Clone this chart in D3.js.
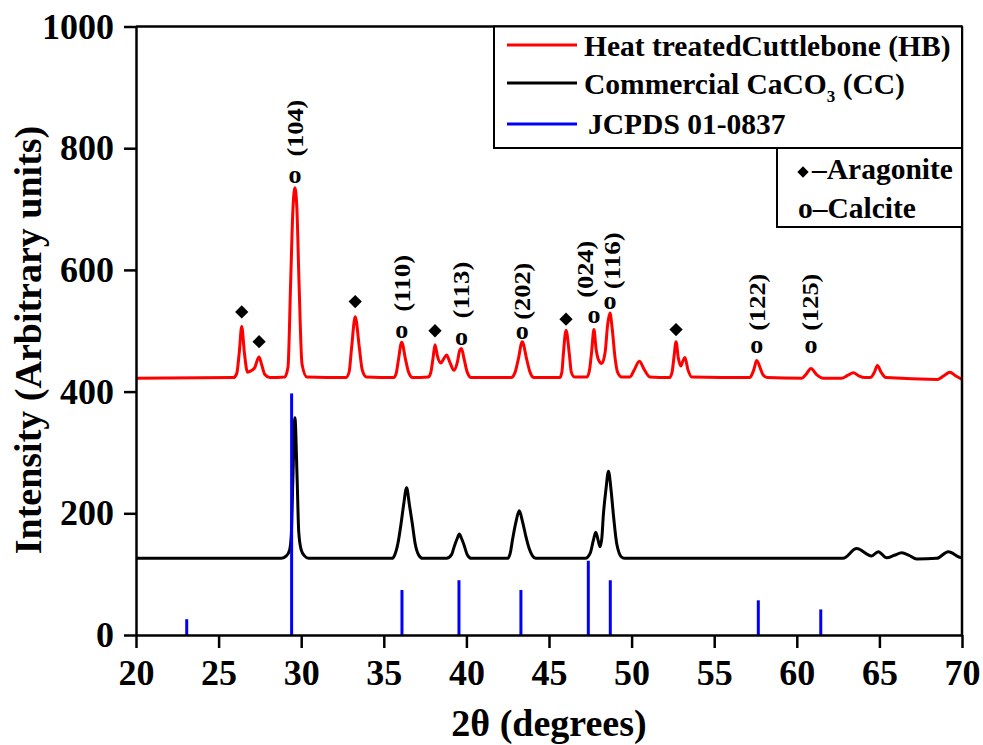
<!DOCTYPE html>
<html><head><meta charset="utf-8">
<script src="https://cdn.jsdelivr.net/npm/d3@7"></script>
<style>
html,body{margin:0;padding:0;background:#fff;}
text{font-family:"Liberation Serif","Times New Roman",Times,serif;font-weight:bold;}
</style>
</head><body>
<svg id="chart" width="983" height="745"></svg>
<script>
// ---------- DATA ----------
const seriesNames = ["Heat treatedCuttlebone (HB)", "Commercial CaCO", "JCPDS 01-0837"];
const xTicks = [20, 25, 30, 35, 40, 45, 50, 55, 60, 65, 70];
const yTicks = [0, 200, 400, 600, 800, 1000];

// Heat treated cuttlebone (HB)
const hbTheta = [20, 25.9, 26.1, 26.25, 26.4, 26.56, 26.75, 26.95, 27.2, 27.32, 27.45, 27.6, 27.8, 28.1,
  29.0, 29.2, 29.36, 29.5, 29.62, 29.74, 29.87, 30.05, 30.35,
  32.7, 32.9, 33.05, 33.27, 33.52, 33.7, 33.95,
  35.6, 35.75, 35.88, 36.08, 36.33, 36.5, 36.75,
  37.7, 37.85, 37.98, 38.1, 38.25, 38.45, 38.65, 38.8, 39.0, 39.25, 39.45, 39.6, 39.7, 39.85, 40.05, 40.3,
  42.7, 42.95, 43.14, 43.38, 43.65, 43.85, 44.1,
  45.65, 45.78, 45.87, 46.03, 46.23, 46.35, 46.55,
  47.3, 47.45, 47.58, 47.72, 47.85, 48.0, 48.19, 48.4, 48.55, 48.69, 48.82, 49.0, 49.15, 49.4,
  49.9, 50.15, 50.47, 50.75, 51.1,
  52.3, 52.45, 52.57, 52.69, 52.83, 52.98, 53.1, 53.23, 53.4, 53.65,
  57.15, 57.3, 57.41, 57.57, 57.81, 57.95, 58.2,
  60.3, 60.55, 60.86, 61.2, 61.6,
  62.7, 63.1, 63.42, 63.75, 64.1, 64.45, 64.7, 64.88, 65.1, 65.4,
  68.5, 68.9, 69.27, 69.6, 70];
const hbIntensity = [422, 423, 430, 464, 507, 464, 432, 434, 440, 450, 457, 445, 428, 423,
  424, 440, 578, 700, 735, 700, 578, 445, 424,
  423, 432, 472, 523, 472, 435, 424,
  423, 430, 451, 481, 451, 432, 423,
  424, 432, 455, 477, 458, 447, 455, 460, 448, 435, 448, 468, 471, 455, 432, 423,
  423, 432, 453, 482, 453, 432, 423,
  423, 432, 462, 501, 462, 432, 424,
  424, 435, 465, 502, 470, 452, 446, 465, 510, 529, 505, 455, 432, 424,
  424, 435, 450, 437, 424,
  423, 432, 458, 482, 455, 442, 450, 456, 437, 424,
  423, 429, 437, 451, 437, 428, 423,
  422, 428, 438, 428, 422,
  422, 427, 431, 426, 423, 423, 432, 443, 432, 423,
  420, 426, 432, 426, 420];

// Commercial CaCO3 (CC)
const ccTheta = [20, 28.8, 29.1, 29.3, 29.4, 29.5, 29.62, 29.75, 29.85, 30.0, 30.2, 30.45,
  35.5, 35.65, 35.85, 36.05, 36.2, 36.38, 36.55, 36.72, 36.9, 37.1, 37.35,
  38.8, 39.1, 39.27, 39.45, 39.57, 39.7, 39.88, 40.05, 40.3,
  42.5, 42.65, 42.8, 43.0, 43.2, 43.4, 43.6, 43.8, 44.0, 44.2,
  47.2, 47.5, 47.68, 47.83, 47.98, 48.09, 48.2, 48.29, 48.45, 48.6, 48.75, 48.9, 49.1, 49.4, 49.6,
  62.8, 63.62, 64.53, 64.93, 65.44, 65.9, 66.35, 66.8, 67.26, 68.47, 69.17, 69.98, 70];
const ccIntensity = [126, 126, 130, 140, 165, 260, 357, 260, 170, 140, 130, 126,
  126, 131, 150, 184, 214, 242, 214, 184, 150, 132, 126,
  126, 132, 146, 159, 166, 159, 146, 132, 126,
  126, 134, 158, 186, 204, 186, 162, 142, 130, 126,
  126, 135, 155, 169, 155, 145, 160, 197, 240, 269, 240, 197, 150, 128, 126,
  126, 142, 130, 137, 127, 131, 135, 131, 125, 126, 137, 127, 127];

// JCPDS 01-0837 reference lines
const jcpdsTheta = [23.07, 29.42, 36.1, 39.55, 43.3, 47.38, 48.71, 57.67, 61.45];
const jcpdsIntensity = [26, 397, 74, 90, 74, 122, 90, 57, 42];

// Phase markers (position of the marker glyph)
const aragoniteTheta = [26.4, 27.45, 33.27, 38.1, 46.03, 52.69];
const aragoniteIntensity = [531, 482, 548, 500, 519, 502];
const calciteTheta = [29.62, 36.08, 39.7, 43.38, 47.72, 48.69, 57.57, 60.86];
const calciteIntensity = [753, 498, 486, 497, 523, 545, 474, 474];

// hkl labels (centre of the rotated label)
const hklLabels = ["(104)", "(110)", "(113)", "(202)", "(024)", "(116)", "(122)", "(125)"];
const hklTheta = [29.62, 36.08, 39.7, 43.38, 47.18, 48.8, 57.57, 60.8];
const hklIntensity = [833, 578, 567, 565, 601, 615, 547, 547];

// ---------- CHART ----------
const svg = d3.select("#chart");
const x = d3.scaleLinear().domain([20, 70]).range([136, 962]);
const y = d3.scaleLinear().domain([0, 1000]).range([635, 26.5]);

const hb = hbTheta.map((t, i) => [t, hbIntensity[i]]);
const cc = ccTheta.map((t, i) => [t, ccIntensity[i]]);
const line = d3.line().x(d => x(d[0])).y(d => y(d[1])).curve(d3.curveMonotoneX);

// black CC curve
svg.append("path").attr("d", line(cc)).attr("fill", "none")
  .attr("stroke", "#000").attr("stroke-width", 3).attr("stroke-linejoin", "round");

// JCPDS sticks
svg.append("g").selectAll("line").data(jcpdsTheta).join("line")
  .attr("x1", d => x(d)).attr("x2", d => x(d))
  .attr("y1", y(0)).attr("y2", (d, i) => y(jcpdsIntensity[i]))
  .attr("stroke", "#0000ff").attr("stroke-width", 3);

// red HB curve
svg.append("path").attr("d", line(hb)).attr("fill", "none")
  .attr("stroke", "#ff0000").attr("stroke-width", 3).attr("stroke-linejoin", "round");

// frame: top and right
svg.append("line").attr("x1", x(20)).attr("x2", x(70)).attr("y1", y(1000)).attr("y2", y(1000))
  .attr("stroke", "#000").attr("stroke-width", 2.5);
svg.append("line").attr("x1", x(70)).attr("x2", x(70)).attr("y1", y(0)).attr("y2", y(1000))
  .attr("stroke", "#000").attr("stroke-width", 2.5);

// axes
const gx = svg.append("g").attr("transform", `translate(0,${y(0)})`)
  .call(d3.axisBottom(x).tickValues(xTicks).tickFormat(d3.format("d")).tickSize(13).tickPadding(11).tickSizeOuter(0));
const gy = svg.append("g").attr("transform", `translate(${x(20)},0)`)
  .call(d3.axisLeft(y).tickValues(yTicks).tickFormat(d3.format("d")).tickSize(12).tickPadding(10).tickSizeOuter(0));
[gx, gy].forEach(g => {
  g.attr("font-family", null);
  g.select(".domain").attr("stroke-width", 2.5);
  g.selectAll(".tick line").attr("stroke-width", 2.5);
  g.selectAll(".tick text").attr("font-size", 36).attr("fill", "#000");
});

// axis titles
svg.append("text").attr("x", 549).attr("y", 736).attr("text-anchor", "middle")
  .attr("font-size", 38).text("2θ (degrees)");
svg.append("text").attr("transform", "translate(41,340) rotate(-90)").attr("text-anchor", "middle")
  .attr("font-size", 38).text("Intensity (Arbitrary units)");

// markers
const diamond = d3.symbol().type(d3.symbolSquare).size(88);
svg.append("g").selectAll("path").data(aragoniteTheta).join("path")
  .attr("d", diamond)
  .attr("transform", (d, i) => `translate(${x(d)},${y(aragoniteIntensity[i])}) rotate(45)`)
  .attr("fill", "#000");
svg.append("g").selectAll("text").data(calciteTheta).join("text")
  .attr("x", d => x(d)).attr("y", (d, i) => y(calciteIntensity[i]) + 6)
  .attr("text-anchor", "middle").attr("font-size", 26).text("o");

// hkl labels
svg.append("g").selectAll("text").data(hklLabels).join("text")
  .attr("transform", (d, i) => `translate(${x(hklTheta[i]) + 8},${y(hklIntensity[i])}) rotate(-90)`)
  .attr("text-anchor", "middle")
  .attr("font-size", 24).attr("textLength", 57).attr("lengthAdjust", "spacingAndGlyphs")
  .text(d => d);

// legend box 1
svg.append("rect").attr("x", 494).attr("y", 26.5).attr("width", 468).attr("height", 121.5)
  .attr("fill", "#fff").attr("stroke", "#000").attr("stroke-width", 2);
const legColors = ["#ff0000", "#000000", "#0000ff"];
const legY = [45, 83, 124];
const legBase = [56, 94, 134];
legColors.forEach((c, i) => {
  svg.append("line").attr("x1", 507).attr("x2", 577).attr("y1", legY[i]).attr("y2", legY[i])
    .attr("stroke", c).attr("stroke-width", 3);
});
svg.append("text").attr("x", 584).attr("y", legBase[0]).attr("font-size", 29.5).text(seriesNames[0]);
const t2 = svg.append("text").attr("x", 584).attr("y", legBase[1]).attr("font-size", 29.5);
t2.append("tspan").text(seriesNames[1]);
t2.append("tspan").attr("font-size", 17).attr("dy", 8).text("3");
t2.append("tspan").attr("dy", -8).text(" (CC)");
svg.append("text").attr("x", 588).attr("y", legBase[2]).attr("font-size", 29.5).text(seriesNames[2]);

// legend box 2
svg.append("rect").attr("x", 777).attr("y", 148).attr("width", 185).attr("height", 79)
  .attr("fill", "#fff").attr("stroke", "#000").attr("stroke-width", 2);
svg.append("path").attr("d", d3.symbol().type(d3.symbolSquare).size(64))
  .attr("transform", "translate(803,172) rotate(45)").attr("fill", "#000");
svg.append("text").attr("x", 812).attr("y", 179).attr("font-size", 29.5).text("–Aragonite");
svg.append("text").attr("x", 798).attr("y", 218).attr("font-size", 29.5).text("o–Calcite");
</script>
</body></html>
